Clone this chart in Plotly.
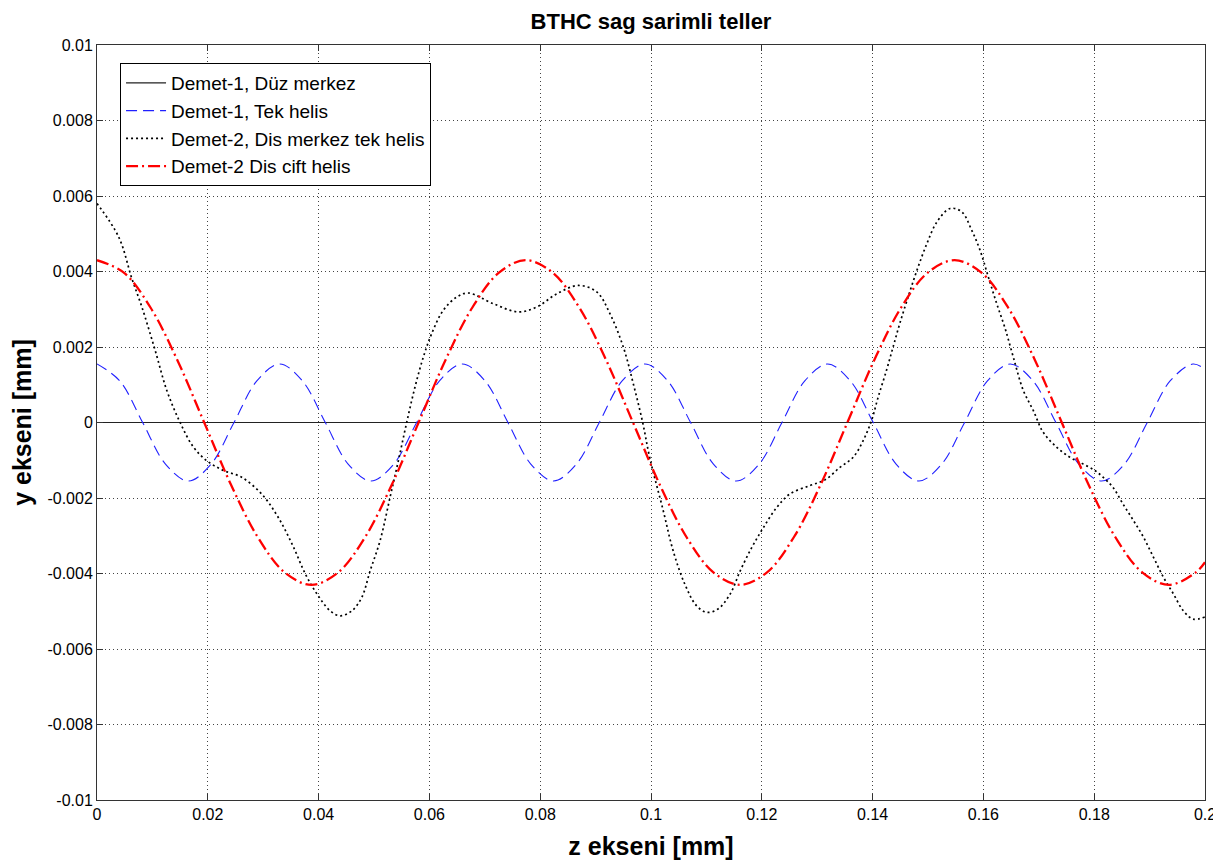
import plotly.graph_objects as go

# ---------------- data ----------------
# Demet-1, Düz merkez (straight centre wire)
straight_z = [0.0, 0.2]
straight_y = [0.0, 0.0]

# Demet-1, Tek helis (blue dashed)
blue_z = [0.0, 0.00412, 0.00824, 0.01236, 0.01648, 0.02061, 0.02473, 0.02885,
          0.03297, 0.03709, 0.04121, 0.04533, 0.04945, 0.05358, 0.0577, 0.06182,
          0.06594, 0.07006, 0.07418, 0.0783, 0.08242, 0.08655, 0.09067, 0.09479,
          0.09891, 0.10303, 0.10715, 0.11127, 0.11539, 0.11952, 0.12364, 0.12776,
          0.13188, 0.136, 0.14012, 0.14424, 0.14836, 0.15249, 0.15661, 0.16073,
          0.16485, 0.16897, 0.17309, 0.17721, 0.18133, 0.18546, 0.18958, 0.1937,
          0.19782, 0.2]
blue_y = [0.00155, 0.0011, 0.0, -0.0011, -0.00155, -0.0011, 0.0, 0.0011,
          0.00155, 0.0011, 0.0, -0.0011, -0.00155, -0.0011, 0.0, 0.0011,
          0.00155, 0.0011, 0.0, -0.0011, -0.00155, -0.0011, 0.0, 0.0011,
          0.00155, 0.0011, 0.0, -0.0011, -0.00155, -0.0011, 0.0, 0.0011,
          0.00155, 0.0011, 0.0, -0.0011, -0.00155, -0.0011, 0.0, 0.0011,
          0.00155, 0.0011, 0.0, -0.0011, -0.00155, -0.0011, 0.0, 0.0011,
          0.00155, 0.00141]

# Demet-2, Dis merkez tek helis (black dotted)
black_z = [0.0, 0.0039, 0.0063, 0.0081, 0.0105, 0.0126, 0.0150, 0.0174, 0.0198,
           0.0228, 0.0261, 0.0297, 0.0327, 0.0354, 0.0376, 0.0397, 0.0421, 0.0439,
           0.0460, 0.0478, 0.0493, 0.0511, 0.0529, 0.0544, 0.0559, 0.0574, 0.0589,
           0.0604, 0.0625, 0.0649, 0.0670, 0.0715, 0.0760, 0.0794, 0.0830, 0.0869,
           0.0902, 0.0926, 0.0950, 0.0968, 0.0985, 0.0998, 0.1022, 0.1040, 0.1061,
           0.1082, 0.1101, 0.1121, 0.1143, 0.1161, 0.1182, 0.1203, 0.1227, 0.1251,
           0.1287, 0.1314, 0.1341, 0.1365, 0.1383, 0.1398, 0.1410, 0.1425, 0.1437,
           0.1449, 0.1464, 0.1480, 0.1498, 0.1516, 0.1540, 0.1561, 0.1579, 0.1594,
           0.1609, 0.1624, 0.1639, 0.1654, 0.1672, 0.1690, 0.1708, 0.1732, 0.1756,
           0.1780, 0.1801, 0.1816, 0.1834, 0.1852, 0.1871, 0.1889, 0.1907, 0.1925,
           0.1943, 0.1961, 0.1979, 0.2000]
black_y = [0.0058, 0.00492, 0.00381, 0.00306, 0.00191, 0.00085, 0.0, -0.00065, -0.00101,
           -0.00127, -0.00145, -0.00189, -0.00251, -0.00328, -0.00401, -0.00454, -0.00499, -0.00512,
           -0.00499, -0.00463, -0.00393, -0.00313, -0.00198, -0.00101, 0.0, 0.00094, 0.00173,
           0.00235, 0.00297, 0.00332, 0.00343, 0.00315, 0.00293, 0.00306, 0.00341, 0.00363,
           0.00346, 0.00288, 0.0020, 0.00103, 0.0, -0.00095, -0.00233, -0.0034, -0.00428,
           -0.00485, -0.00503, -0.00494, -0.00454, -0.00393, -0.00331, -0.00278, -0.00225, -0.00189,
           -0.00167, -0.00152, -0.00119, -0.00092, -0.00048, 0.00005, 0.00067, 0.00138, 0.0020,
           0.00262, 0.00332, 0.00403, 0.00474, 0.00531, 0.00567, 0.00558, 0.00509, 0.00456,
           0.00385, 0.00315, 0.00250, 0.00173, 0.00085, 0.00032, -0.00026, -0.00065, -0.00092,
           -0.0011, -0.00127, -0.00145, -0.00172, -0.00216, -0.0026, -0.00304, -0.00357, -0.0041,
           -0.00454, -0.00499, -0.00521, -0.00515]

# Demet-2 Dis cift helis (red dash-dot)
red_z = [0.0, 0.00484, 0.00968, 0.01451, 0.01935, 0.02419, 0.02903, 0.03386,
         0.0387, 0.04354, 0.04838, 0.05321, 0.05805, 0.06289, 0.06773, 0.07256,
         0.0774, 0.08224, 0.08708, 0.09191, 0.09675, 0.10159, 0.10643, 0.11126,
         0.1161, 0.12094, 0.12578, 0.13061, 0.13545, 0.14029, 0.14513, 0.14996,
         0.1548, 0.15964, 0.16448, 0.16931, 0.17415, 0.17899, 0.18383, 0.18866,
         0.1935, 0.19834, 0.2]
red_y = [0.0043, 0.00397, 0.00304, 0.00165, 0.0, -0.00165, -0.00304, -0.00397,
         -0.0043, -0.00397, -0.00304, -0.00165, 0.0, 0.00165, 0.00304, 0.00397,
         0.0043, 0.00397, 0.00304, 0.00165, 0.0, -0.00165, -0.00304, -0.00397,
         -0.0043, -0.00397, -0.00304, -0.00165, 0.0, 0.00165, 0.00304, 0.00397,
         0.0043, 0.00397, 0.00304, 0.00165, 0.0, -0.00165, -0.00304, -0.00397,
         -0.0043, -0.00397, -0.0037]

series_names = ["Demet-1, Düz merkez", "Demet-1, Tek helis",
                "Demet-2, Dis merkez tek helis", "Demet-2 Dis cift helis"]

x_tickvals = [0, 0.02, 0.04, 0.06, 0.08, 0.1, 0.12, 0.14, 0.16, 0.18, 0.2]
x_ticktext = ["0", "0.02", "0.04", "0.06", "0.08", "0.1", "0.12", "0.14", "0.16", "0.18", "0.2"]
y_tickvals = [0.01, 0.008, 0.006, 0.004, 0.002, 0, -0.002, -0.004, -0.006, -0.008, -0.01]
y_ticktext = ["0.01", "0.008", "0.006", "0.004", "0.002", "0", "-0.002", "-0.004",
              "-0.006", "-0.008", "-0.01"]

title_text = "BTHC sag sarimli teller"
x_title = "z ekseni [mm]"
y_title = "y ekseni [mm]"

# ---------------- figure ----------------
FONT = "Liberation Sans, Arial, sans-serif"

fig = go.Figure()
fig.add_trace(go.Scatter(x=straight_z, y=straight_y, mode="lines", name=series_names[0],
                         line=dict(color="#222222", width=1.2)))
fig.add_trace(go.Scatter(x=blue_z, y=blue_y, mode="lines", name=series_names[1],
                         line=dict(color="#2020ff", width=1.1, dash="11px,6px", shape="spline")))
fig.add_trace(go.Scatter(x=black_z, y=black_y, mode="lines", name=series_names[2],
                         line=dict(color="#000000", width=1.7, dash="2px,3px", shape="spline")))
fig.add_trace(go.Scatter(x=red_z, y=red_y, mode="lines", name=series_names[3],
                         line=dict(color="#ff0000", width=2.3, dash="12px,4px,2px,4px", shape="spline")))

axis_common = dict(
    showline=True, linecolor="#333333", linewidth=1, mirror="ticks",
    ticks="inside", ticklen=6, tickcolor="#333333", tickwidth=1,
    showgrid=True, gridcolor="#444444", gridwidth=1, griddash="1px,3px",
    zeroline=False, automargin=False,
    tickfont=dict(family=FONT, size=16, color="#000000"),
)

# the page body has an 8px default margin, so the figure is sized to fit the window
fig.update_layout(
    width=1213, height=854,
    margin=dict(l=89, r=16, t=37, b=62),
    paper_bgcolor="white", plot_bgcolor="white",
    title=dict(text="<b>" + title_text + "</b>", x=0.5, xref="paper", y=0.985, yanchor="middle",
               font=dict(family=FONT, size=22, color="#000000")),
    xaxis=dict(range=[0, 0.2], tickvals=x_tickvals, ticktext=x_ticktext,
               title=dict(text="<b>" + x_title + "</b>",
                          font=dict(family=FONT, size=25, color="#000000")),
               **axis_common),
    yaxis=dict(range=[-0.01, 0.01], tickvals=y_tickvals, ticktext=y_ticktext,
               title=dict(text="<b>" + y_title + "</b>",
                          font=dict(family=FONT, size=25, color="#000000")),
               **axis_common),
    legend=dict(x=0.0208, y=0.976, xanchor="left", yanchor="top",
                bgcolor="white", bordercolor="#000000", borderwidth=1,
                font=dict(family=FONT, size=19, color="#000000"),
                itemwidth=40),
    showlegend=True,
)

fig.write_html("out.html")
